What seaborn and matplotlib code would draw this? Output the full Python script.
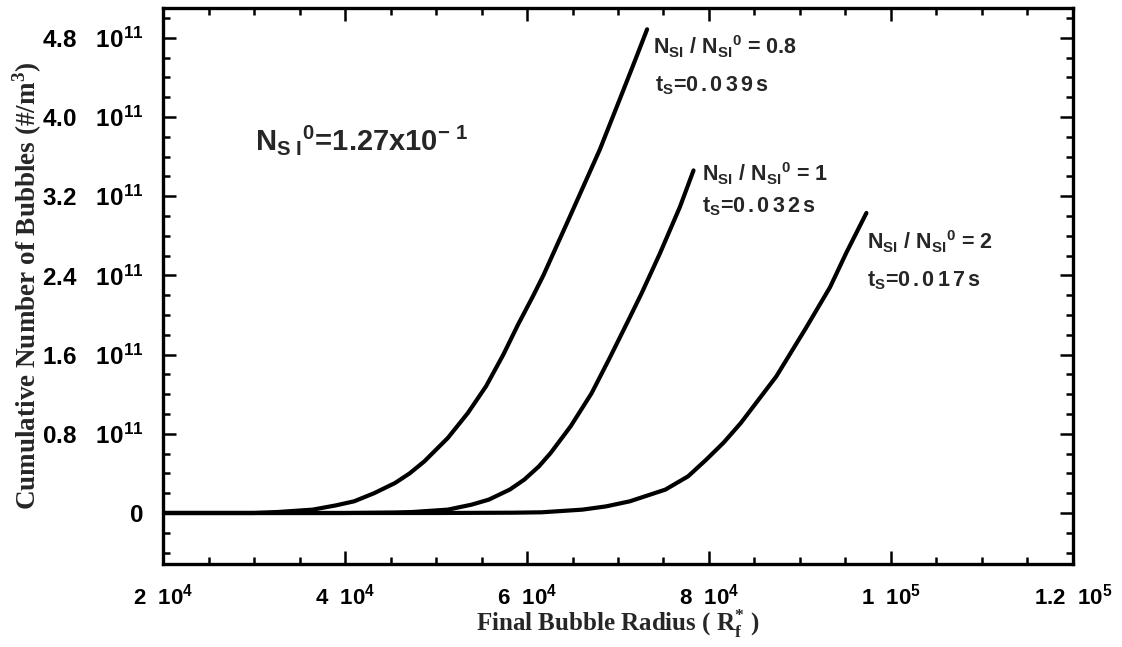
import numpy as np
import pandas as pd
import matplotlib
matplotlib.use("Agg")
import matplotlib.pyplot as plt
import seaborn as sns
from matplotlib.ticker import MultipleLocator, FixedLocator, FixedFormatter

# radius in units of 1e4, count in units of 1e11
r_08 = [2.0, 3.0, 3.26, 3.645, 3.90, 4.10, 4.32, 4.55, 4.71, 4.87, 5.13, 5.35, 5.55,
        5.74, 5.90, 6.06, 6.18, 6.45, 6.80, 7.02, 7.17, 7.32]
n_08 = [0.0, 0.0, 0.01, 0.034, 0.077, 0.118, 0.20, 0.303, 0.40, 0.52, 0.758, 1.01, 1.28,
        1.60, 1.90, 2.18, 2.40, 2.95, 3.67, 4.18, 4.53, 4.885]

r_1 = [2.0, 4.0, 4.55, 4.74, 5.13, 5.39, 5.58, 5.81, 5.97, 6.13, 6.26, 6.48, 6.71,
       6.90, 7.10, 7.26, 7.46, 7.68, 7.83]
n_1 = [0.0, 0.0, 0.005, 0.01, 0.034, 0.084, 0.135, 0.236, 0.337, 0.47, 0.606, 0.876, 1.21,
       1.55, 1.92, 2.22, 2.62, 3.09, 3.46]

r_2 = [2.0, 5.0, 5.84, 6.16, 6.61, 6.87, 7.13, 7.52, 7.77, 7.97, 8.16, 8.35, 8.74,
       9.06, 9.33, 9.51, 9.73]
n_2 = [0.0, 0.0, 0.003, 0.007, 0.034, 0.067, 0.118, 0.236, 0.37, 0.539, 0.71, 0.909, 1.38,
       1.86, 2.28, 2.63, 3.03]

x_ticks = [2e4, 4e4, 6e4, 8e4, 1e5, 1.2e5]
x_labels = ["2  $10^{4}$", "4  $10^{4}$", "6  $10^{4}$", "8  $10^{4}$", "1  $10^{5}$", "1.2  $10^{5}$"]
y_ticks = [0, 0.8e11, 1.6e11, 2.4e11, 3.2e11, 4.0e11, 4.8e11]
y_labels = ["0", "0.8   $10^{11}$", "1.6   $10^{11}$", "2.4   $10^{11}$", "3.2   $10^{11}$",
            "4.0   $10^{11}$", "4.8   $10^{11}$"]

frames = []
for name, r, n in [("0.8", r_08, n_08), ("1", r_1, n_1), ("2", r_2, n_2)]:
    frames.append(pd.DataFrame({"R": np.array(r) * 1e4, "N": np.array(n) * 1e11, "ratio": name}))
df = pd.concat(frames, ignore_index=True)

sns.set_style("ticks")
plt.rcParams["font.family"] = ["Liberation Sans", "DejaVu Sans"]
plt.rcParams["font.weight"] = "bold"
plt.rcParams["mathtext.fontset"] = "custom"
plt.rcParams["mathtext.rm"] = "Liberation Sans:bold"
plt.rcParams["mathtext.it"] = "Liberation Sans:bold"
plt.rcParams["mathtext.bf"] = "Liberation Sans:bold"

fig = plt.figure(figsize=(11.22, 6.47), dpi=100)
ax = fig.add_axes([0.1453, 0.1283, 0.8110, 0.8593])

sns.lineplot(data=df, x="R", y="N", hue="ratio", palette=["black"] * 3, sort=False,
             estimator=None, linewidth=3.0, legend=False, ax=ax)

ax.set_xlim(2e4, 1.2e5)
ax.set_ylim(-0.515e11, 5.1e11)

ax.xaxis.set_major_locator(FixedLocator(x_ticks))
ax.xaxis.set_major_formatter(FixedFormatter(x_labels))
ax.xaxis.set_minor_locator(MultipleLocator(5e3))
ax.yaxis.set_major_locator(FixedLocator(y_ticks))
ax.yaxis.set_major_formatter(FixedFormatter(y_labels))
ax.yaxis.set_minor_locator(MultipleLocator(0.2e11))

ax.tick_params(which="both", direction="in", top=True, right=True, width=1.8, colors="black")
ax.tick_params(which="major", length=9.5, pad=11)
ax.tick_params(which="minor", length=5)
ax.tick_params(axis="x", which="major", pad=14, labelsize=16)
ax.tick_params(axis="y", which="major", pad=14, labelsize=17.5)
for lab in ax.get_xticklabels() + ax.get_yticklabels():
    lab.set_fontweight("bold")

for s in ax.spines.values():
    s.set_linewidth(2.4)
    s.set_color("black")

ax.set_xlabel("Final Bubble Radius ( R$_{\\mathregular{f}}^{\\mathregular{*}}$ )", family="Liberation Serif",
              fontsize=18, fontweight="bold")
ax.xaxis.set_label_coords(0.5, -0.078)
ax.set_ylabel("Cumulative Number of Bubbles (#/m$^{\\mathregular{3}}$)", family="Liberation Serif",
              fontsize=19.5, fontweight="bold")
ax.yaxis.set_label_coords(-0.131, 0.5)

def spaced(s):
    return "$\\,$".join(s)

fs = 15.5
ax.text(7.39e4, 4.71e11, "N$_{SI}$ / N$_{SI}$$^{0}$ = 0.8", fontsize=fs, va="center")
ax.text(7.41e4, 4.32e11, "t$_{S}$=" + spaced("0.039s"), fontsize=fs, va="center")
ax.text(7.92e4, 3.43e11, "N$_{SI}$ / N$_{SI}$$^{0}$ = 1", fontsize=fs, va="center")
ax.text(7.92e4, 3.09e11, "t$_{S}$=" + spaced("0.032s"), fontsize=fs, va="center")
ax.text(9.74e4, 2.74e11, "N$_{SI}$ / N$_{SI}$$^{0}$ = 2", fontsize=fs, va="center")
ax.text(9.74e4, 2.35e11, "t$_{S}$=" + spaced("0.017s"), fontsize=fs, va="center")
ax.text(3.01e4, 3.77e11, "N$_{S\\ I}$$^{0}$=1.27x10$^{-\\ 1}$", fontsize=21, va="center")

fig.savefig("out.png", dpi=100)
